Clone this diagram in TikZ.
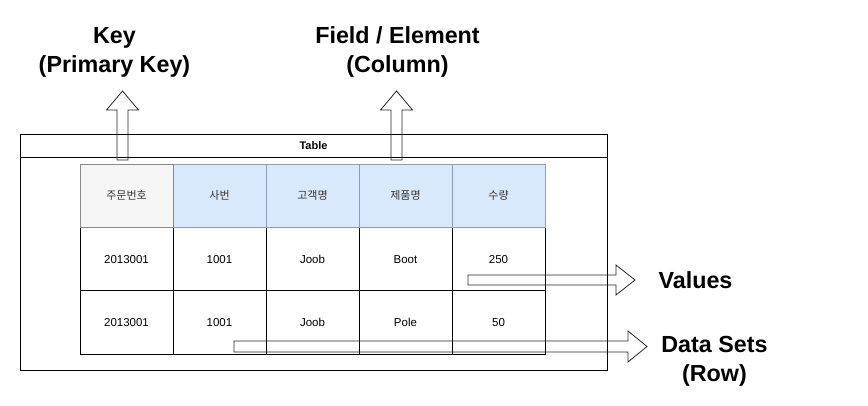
\documentclass[tikz,border=0pt]{standalone}
\usepackage{fontspec}
\setmainfont{Liberation Sans}
\newfontfamily\krfont{Noto Sans CJK KR}
\definecolor{hdrgray}{HTML}{F5F5F5}
\definecolor{hdrgraydraw}{HTML}{8A8A8A}
\definecolor{hdrblue}{HTML}{DAE8FC}
\definecolor{hdrbluedraw}{HTML}{8C9DB5}
\definecolor{hdrtext}{HTML}{333333}
\begin{document}
\begin{tikzpicture}[x=1pt,y=-1pt,
  cellbox/.style={draw=black, line width=0.9pt, minimum width=93pt, minimum height=63.5pt,
    inner sep=0pt, text height=8.3pt, text depth=0pt, font=\fontsize{11.5}{13}\selectfont},
  keyhdr/.style={cellbox, draw=hdrgraydraw, fill=hdrgray, text=hdrtext, font=\krfont\fontsize{11}{13}\selectfont},
  colhdr/.style={cellbox, draw=hdrbluedraw, fill=hdrblue, text=hdrtext, font=\krfont\fontsize{11}{13}\selectfont},
  blockarrow/.style={draw=black!85, line width=0.8pt, line join=miter},
  lbl/.style={font=\bfseries\fontsize{23.3}{29}\selectfont, align=center, inner sep=0pt},
  framebox/.style={draw=black, line width=0.9pt}]
\useasboundingbox (0,0) rectangle (868,406);

% outer table frame
\draw[framebox] (20,134) rectangle (607,370);
\draw[framebox] (20,157) -- (607,157);
\node[font=\bfseries\fontsize{11}{13}\selectfont] (title) at (313.5,146) {Table};

% data rows
\node[cellbox] (r1c1) at (126.5,259) {2013001};
\node[cellbox] (r1c2) at (219.5,259) {1001};
\node[cellbox] (r1c3) at (312.5,259) {Joob};
\node[cellbox] (r1c4) at (405.5,259) {Boot};
\node[cellbox] (r1c5) at (498.5,259) {250};
\node[cellbox] (r2c1) at (126.5,322.5) {2013001};
\node[cellbox] (r2c2) at (219.5,322.5) {1001};
\node[cellbox] (r2c3) at (312.5,322.5) {Joob};
\node[cellbox] (r2c4) at (405.5,322.5) {Pole};
\node[cellbox] (r2c5) at (498.5,322.5) {50};

% header row
\node[colhdr] (h2) at (219.5,195.75) {사번};
\node[colhdr] (h3) at (312.5,195.75) {고객명};
\node[colhdr] (h4) at (405.5,195.75) {제품명};
\node[colhdr] (h5) at (498.5,195.75) {수량};
\node[keyhdr] (h1) at (126.5,195.75) {주문번호};

% labels
\node[lbl] (keylbl) at (114.5,52) {Key\\(Primary Key)};
\node[lbl] (fieldlbl) at (397.5,52) {Field / Element\\(Column)};
\node[lbl] (vallbl) at (695.5,280) {Values};
\node[lbl] (rowlbl) at (714.5,361) {Data Sets\\(Row)};

% block arrows
\draw[blockarrow] (117,160) -- (117,110) -- (106.5,110) -- (122.5,91) -- (138.5,110) -- (128,110) -- (128,160) -- cycle;
\draw[blockarrow] (391,160) -- (391,110) -- (380.5,110) -- (396.5,91) -- (412.5,110) -- (402,110) -- (402,160) -- cycle;
\draw[blockarrow] (468,275) -- (616,275) -- (616,265) -- (635,280) -- (616,295) -- (616,285) -- (468,285) -- cycle;
\draw[blockarrow] (234,341) -- (628,341) -- (628,331) -- (647,346.5) -- (628,362) -- (628,352) -- (234,352) -- cycle;
\end{tikzpicture}
\end{document}
